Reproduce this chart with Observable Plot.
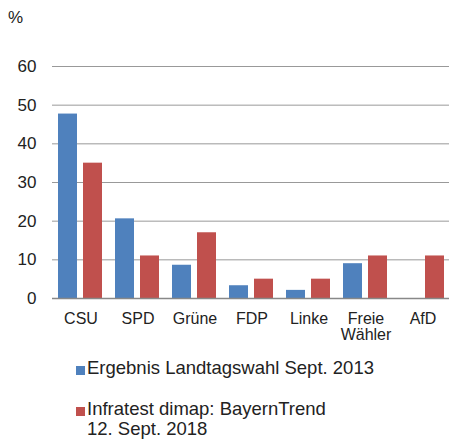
<!DOCTYPE html>
<html>
<head>
<meta charset="utf-8">
<script src="https://cdn.jsdelivr.net/npm/d3@7"></script>
<script src="https://cdn.jsdelivr.net/npm/@observablehq/plot@0.6"></script>
<style>
  html, body { margin: 0; padding: 0; background: #fff; }
  #wrap { position: relative; width: 449px; height: 442px; overflow: hidden; font-family: "Liberation Sans", Arial, sans-serif; color: #222; }
  #unit { position: absolute; left: 8px; top: 8px; font-size: 17px; line-height: 20px; }
  .legend { position: absolute; left: 76px; font-size: 18.5px; line-height: 20px; }
  .legend .sw { position: absolute; left: 0; width: 9px; height: 9px; }
  .legend .tx { position: absolute; left: 11px; white-space: nowrap; }
  #chart svg g[aria-label="y-axis tick label"] text { font-size: 17px; }
</style>
</head>
<body>
<div id="wrap">
  <div id="chart"></div>
  <div id="unit">%</div>
  <div id="legend"></div>
</div>
<script>
const parties = ["CSU", "SPD", "Grüne", "FDP", "Linke", "Freie Wähler", "AfD"];
const series = ["Ergebnis Landtagswahl Sept. 2013", "Infratest dimap: BayernTrend 12. Sept. 2018"];
const values2013 = [47.7, 20.6, 8.6, 3.3, 2.1, 9.0, null];
const values2018 = [35, 11, 17, 5, 5, 11, 11];
const colors = ["#4F81BD", "#C0504D"];
const yTicks = [0, 10, 20, 30, 40, 50, 60];

const data = [];
parties.forEach((p, i) => {
  if (values2013[i] != null) data.push({party: p, series: series[0], value: values2013[i]});
  if (values2018[i] != null) data.push({party: p, series: series[1], value: values2018[i]});
});

const chart = Plot.plot({
  width: 449,
  height: 345,
  marginLeft: 49,
  marginRight: -5,
  marginTop: 66,
  marginBottom: 47,
  style: {fontFamily: "'Liberation Sans', Arial, sans-serif", fontSize: "16px", color: "#222", background: "transparent"},
  fx: {domain: parties, padding: 0, label: null, tickSize: 0, tickPadding: 14,
       tickFormat: d => d.replace(" ", "\n")},
  x: {domain: series, padding: 0.23, axis: null},
  y: {domain: [0, 60], ticks: yTicks, label: null, tickSize: 0, tickPadding: 16},
  color: {domain: series, range: colors},
  marks: [
    Plot.ruleY(yTicks.filter(d => d > 0), {stroke: "#999999", strokeWidth: 1, strokeOpacity: 1}),
    Plot.barY(data, {fx: "party", x: "series", y: "value", fill: "series"}),
    Plot.ruleY([0], {stroke: "#888888", strokeWidth: 1.5, strokeOpacity: 1})
  ]
});
document.getElementById("chart").appendChild(chart);

const leg = document.getElementById("legend");
const legendRows = [
  {top: 358, lines: [series[0]]},
  {top: 399, lines: ["Infratest dimap: BayernTrend", "12. Sept. 2018"]}
];
legendRows.forEach((r, i) => {
  const el = document.createElement("div");
  el.className = "legend";
  el.style.top = r.top + "px";
  el.innerHTML = `<div class="sw" style="background:${colors[i]};top:8px"></div>` +
    `<div class="tx">${r.lines.join("<br>")}</div>`;
  leg.appendChild(el);
});
</script>
</body>
</html>
